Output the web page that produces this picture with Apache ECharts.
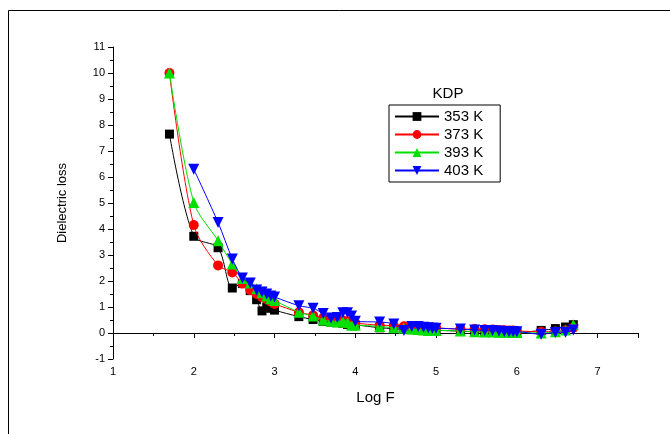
<!DOCTYPE html>
<html><head><meta charset="utf-8">
<script src="https://cdn.jsdelivr.net/npm/echarts@6/dist/echarts.min.js"></script>
<style>html,body{margin:0;padding:0;background:#fff}#c{width:670px;height:434px}</style>
</head><body><div id="c"></div>
<script>
const logF = [1.699, 2, 2.301, 2.477, 2.602, 2.699, 2.778, 2.845, 2.903, 2.954, 3, 3.301, 3.477, 3.602, 3.699, 3.778, 3.845, 3.903, 3.954, 4, 4.301, 4.477, 4.602, 4.699, 4.778, 4.845, 4.903, 4.954, 5, 5.301, 5.477, 5.602, 5.699, 5.778, 5.845, 5.903, 5.954, 6, 6.301, 6.477, 6.602, 6.699];
const k353 = [7.65, 3.72, 3.28, 1.73, 1.9, 1.63, 1.28, 0.85, 1.0, 0.95, 0.88, 0.63, 0.52, 0.45, 0.42, 0.4, 0.38, 0.33, 0.3, 0.3, 0.2, 0.17, 0.15, 0.13, 0.12, 0.11, 0.1, 0.1, 0.1, 0.07, 0.05, 0.05, 0.04, 0.04, 0.03, 0.03, 0.02, 0.02, 0.1, 0.17, 0.23, 0.32];
const k373 = [10, 4.15, 2.6, 2.33, 1.9, 1.65, 1.5, 1.38, 1.3, 1.2, 1.12, 0.8, 0.68, 0.58, 0.55, 0.5, 0.48, 0.45, 0.4, 0.38, 0.3, 0.28, 0.26, 0.25, 0.24, 0.23, 0.22, 0.21, 0.2, 0.15, 0.15, 0.14, 0.13, 0.12, 0.11, 0.1, 0.1, 0.08, 0.05, 0.06, 0.1, 0.2];
const k393 = [10, 5.02, 3.55, 2.65, 2.1, 1.92, 1.7, 1.55, 1.42, 1.32, 1.25, 0.8, 0.65, 0.5, 0.45, 0.42, 0.45, 0.4, 0.3, 0.3, 0.25, 0.2, 0.18, 0.15, 0.13, 0.12, 0.1, 0.1, 0.1, 0.08, 0.05, 0.04, 0.04, 0.03, 0.03, 0.03, 0.02, 0.02, 0.0, 0.05, 0.12, 0.32];
const k403 = [null, 6.3, 4.25, 2.85, 2.12, 1.92, 1.65, 1.58, 1.5, 1.42, 1.38, 1.05, 0.95, 0.75, 0.58, 0.6, 0.78, 0.78, 0.65, 0.45, 0.42, 0.35, 0.1, 0.25, 0.25, 0.22, 0.2, 0.18, 0.18, 0.15, 0.12, 0.1, 0.1, 0.08, 0.06, 0.05, 0.05, 0.05, -0.05, 0.02, 0.03, 0.12];
const names = ['353 K', '373 K', '393 K', '403 K'];
const colors = ['#000000', '#ff0000', '#00e000', '#0000ff'];
const symbols = ['rect', 'circle', 'triangle', 'path://M0,0 L10,0 L5,10 Z'];
const sizes = [9, 10, 11, 11];
const values = [k353, k373, k393, k403];

const chart = echarts.init(document.getElementById('c'));
const series = values.map((v, i) => ({
  name: names[i],
  type: 'line',
  smooth: 0.3,
  data: logF.map((x, j) => v[j] == null ? null : [x, v[j]]).filter(d => d),
  symbol: symbols[i],
  symbolSize: sizes[i],
  showAllSymbol: true,
  itemStyle: { color: colors[i] },
  lineStyle: { color: colors[i], width: 1 },
  z: 2 + i
}));
chart.setOption({
  animation: false,
  backgroundColor: '#fff',
  title: { text: 'KDP', left: 443, top: 81, textAlign: 'center',
    textStyle: { fontFamily: 'Liberation Sans', fontSize: 15, fontWeight: 'normal', color: '#000' } },
  legend: {
    orient: 'vertical', left: 389, top: 105, padding: [4, 17, 4, 5],
    itemWidth: 44, itemHeight: 11, itemGap: 3,
    borderColor: '#000', borderWidth: 1,
    textStyle: { fontFamily: 'Liberation Sans', fontSize: 15, color: '#000' },
    data: names
  },
  graphic: [{ type: 'rect', shape: { x: 8.5, y: 10.5, width: 800, height: 600 },
    style: { fill: 'none', stroke: '#000', lineWidth: 1 }, silent: true }],
  grid: { left: 113, right: 32, top: 47, bottom: 75 },
  xAxis: {
    type: 'value', min: 1, max: 7.5, interval: 1,
    name: 'Log F', nameLocation: 'middle', nameGap: 31,
    nameTextStyle: { fontFamily: 'Liberation Sans', fontSize: 15, color: '#000' },
    axisLine: { lineStyle: { color: '#000', width: 1 } },
    axisTick: { length: 5, lineStyle: { color: '#000' } },
    minorTick: { show: true, splitNumber: 2, length: 3, lineStyle: { color: '#000' } },
    axisLabel: { fontFamily: 'Liberation Sans', fontSize: 11, color: '#000', margin: 7, showMaxLabel: false },
    splitLine: { show: false }
  },
  yAxis: {
    type: 'value', min: -1, max: 11, interval: 1,
    name: 'Dielectric loss', nameLocation: 'middle', nameGap: 44,
    nameTextStyle: { fontFamily: 'Liberation Sans', fontSize: 13, color: '#000' },
    axisLine: { show: true, lineStyle: { color: '#000', width: 1 } },
    axisTick: { show: true, length: 5, lineStyle: { color: '#000' } },
    minorTick: { show: true, splitNumber: 2, length: 3, lineStyle: { color: '#000' } },
    axisLabel: { fontFamily: 'Liberation Sans', fontSize: 11, color: '#000', margin: 8 },
    splitLine: { show: false }
  },
  series: series
});
</script></body></html>
